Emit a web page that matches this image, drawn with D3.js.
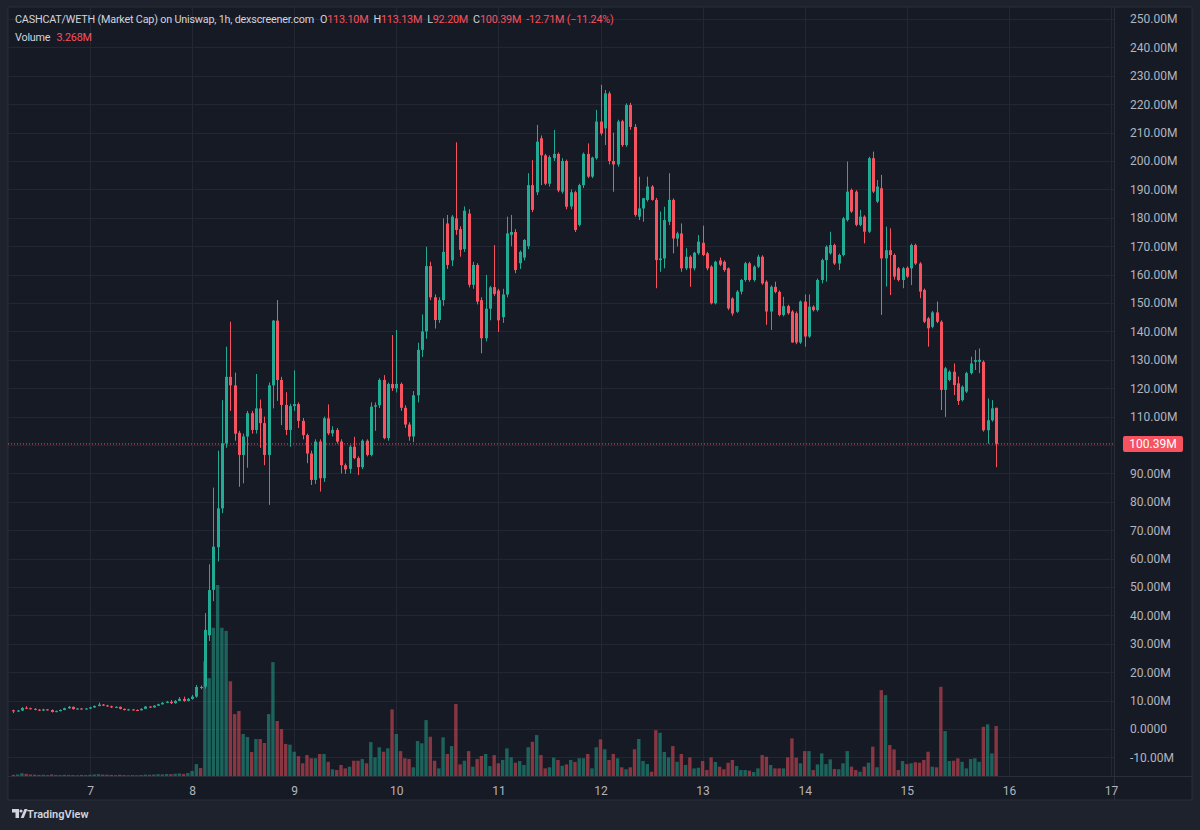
<!DOCTYPE html>
<html>
<head>
<meta charset="utf-8">
<script src="https://cdn.jsdelivr.net/npm/d3@7"></script>
<style>
  html, body { margin: 0; padding: 0; background: #1e222d; }
  svg { display: block; font-family: Roboto, "Liberation Sans", sans-serif; }
</style>
</head>
<body>
<div id="chart"></div>
<script>
// CASHCAT/WETH market cap, 1h candles, values in millions (M)
// first candle = day 6, 06:00 ; last candle = day 15, 21:00
const startTime = Date.UTC(2024, 5, 6, 6);

const dayTicks = [7, 8, 9, 10, 11, 12, 13, 14, 15, 16, 17];
const priceTicks = [-10, 0, 10, 20, 30, 40, 50, 60, 70, 80, 90, 100, 110, 120, 130,
  140, 150, 160, 170, 180, 190, 200, 210, 220, 230, 240, 250];

const opens = [
  // 6
  6.6, 6.2, 6.5, 7.5, 7.3, 7.1, 6.8, 6.5, 6.9, 6.7, 6.0, 6.3, 6.7, 7.3, 7.8, 7.0, 7.2, 7.1,
  // 7
  7.2, 7.6, 8.1, 8.6, 8.3, 8.0, 7.6, 7.8, 7.1, 6.7, 6.9, 6.7, 6.6, 7.1, 7.9, 7.6, 8.2, 8.7, 9.2, 9.6, 9.1, 9.9, 10.6, 9.9,
  // 8
  10.6, 11.4, 14.8, 14.9, 33, 49, 64, 77.7, 100.6, 124, 121, 104.3, 96.5, 103, 111.2, 105.3, 112.9, 107.7, 96.5, 121, 143.8, 122.9, 114.1, 105.3,
  // 9
  113.7, 114.4, 108.5, 103.5, 97, 87.7, 101.2, 88.3, 109.4, 104.1, 105.3, 101.2, 92.9, 91.6, 99.4, 95.4, 92.2, 101.5, 96.5, 113.5, 114, 122.9, 102.4, 121.5,
  // 10
  120, 121.5, 113.1, 107.2, 103, 117.5, 133.5, 140, 163, 152, 144, 151, 178, 165, 179.8, 176, 169, 181.5, 156.4, 163.4, 151, 137.6, 148, 155.6,
  // 11
  154.4, 145, 153, 174, 175, 164, 166, 170, 191.5, 189, 208, 202, 192, 201, 202.5, 189.2, 200, 184, 189, 177.5, 191.5, 202.5, 194.5, 201,
  // 12
  213.9, 211.5, 223.8, 200, 198.8, 214, 205.6, 219.7, 212, 180.4, 183.3, 186.3, 191, 186.3, 165.1, 165.7, 178.6, 186.3, 172.7, 174.5, 162.2, 166.3, 162.2, 167.5,
  // 13
  171.2, 167.5, 162.8, 149.9, 165, 164.5, 162.2, 151.6, 146.9, 154, 158.1, 164, 158.1, 162.8, 166.3, 157.5, 147, 155.7, 153.9, 145.8, 148.9, 147, 146.4, 136.1,
  // 14
  150.5, 138.2, 148.7, 147.5, 158.1, 165.1, 167.5, 170.4, 163.9, 166.9, 179.2, 189.8, 189.2, 177.5, 180.4, 175.1, 201, 185.7, 190.4, 165.7, 168.6, 166.9, 162.2, 158.1,
  // 15
  162.4, 162.2, 170.4, 163.9, 154.6, 144.6, 141.6, 146.7, 143.4, 119.4, 122.9, 125.8, 121.7, 115.8, 118.8, 125.3, 129.3, 129.3, 129.3, 105.2, 108.7, 113.10
];

const highs = [
  6.8, 6.7, 7.7, 8.0, 7.5, 7.3, 7.0, 7.1, 7.0, 6.9, 6.5, 6.9, 7.5, 8.1, 7.9, 7.4, 7.4, 7.4,
  7.8, 8.3, 9.3, 8.8, 8.5, 8.2, 8.0, 7.9, 7.2, 7.1, 7.0, 6.9, 7.3, 8.1, 8.0, 8.4, 8.9, 9.5, 9.9, 10.2, 10.2, 11.2, 11.4, 10.9,
  12, 15.5, 15.3, 40.8, 58, 85, 98, 115.8, 134.6, 143.4, 125.5, 105, 104, 112, 112, 125, 116, 110, 122, 144, 151, 124, 118.6, 114.5,
  126.3, 115, 109.5, 104, 98, 102, 102, 110, 114.3, 106.6, 106, 102, 93.5, 100, 102.9, 96, 102, 102, 115, 115, 123.5, 124.6, 122, 138.7,
  140.5, 122, 114, 108, 119, 136, 146, 169.8, 164.5, 153, 152, 179.8, 181, 181, 206.6, 177, 184, 183, 164.5, 164, 152, 159.9, 156, 170.4,
  155, 155, 180.4, 181, 176, 168.5, 172.5, 195.7, 200.3, 212.7, 209, 202.5, 202, 210.9, 203, 201, 200.5, 190, 189.5, 192, 203, 206.2, 201.5, 218,
  226.8, 225, 224.5, 210, 214.5, 214.5, 220.3, 220.5, 213, 194.5, 187, 194.5, 191.5, 187, 182.2, 183.9, 195.7, 186.8, 175.1, 178, 169.3, 166.8, 168, 173.9,
  177.2, 168, 163.3, 164.9, 166, 165, 162.5, 152, 154.5, 158.5, 164.5, 164.5, 163.3, 167, 166.8, 158, 156.2, 157.5, 154.4, 152.2, 149.4, 147.5, 147, 150.9,
  153, 153, 149.2, 158.6, 165.6, 170.3, 175.1, 170.9, 167.4, 180.3, 199.8, 190.3, 189.7, 182.8, 180.9, 201.5, 203.3, 193.3, 195.1, 176.9, 176.3, 167.4, 162.7, 162.7,
  162.9, 170.9, 170.9, 164.4, 155.1, 145.1, 147.2, 150.5, 143.9, 127.5, 126.3, 128.7, 124.1, 121, 125.8, 131.1, 133.4, 134, 129.8, 116.4, 115.8, 113.13
];

const lows = [
  5.6, 6.0, 6.3, 7.0, 6.9, 6.6, 6.3, 6.3, 6.5, 5.8, 5.9, 6.2, 6.6, 7.1, 6.8, 6.9, 6.9, 6.9,
  7.0, 7.5, 8.0, 8.1, 7.8, 7.4, 7.4, 6.9, 6.5, 6.5, 6.5, 6.4, 6.5, 7.0, 7.4, 7.5, 8.1, 8.6, 9.1, 8.8, 8.9, 9.8, 9.6, 9.7,
  10.3, 11, 14, 14.2, 31, 45, 59, 76, 99, 112, 101.5, 85.3, 86.5, 92, 104, 104, 99, 92.9, 78.9, 112.9, 115.5, 107, 103.5, 99.4,
  112, 106, 102, 93.6, 85.9, 86.3, 83.6, 87, 103.5, 103, 100.5, 90, 89.8, 90, 95, 89.4, 91.5, 96, 96, 105, 113, 102, 101.5, 119,
  118.5, 112, 106, 101.5, 101, 115, 131, 137.4, 151, 141, 143, 149, 162, 163, 174, 166.3, 168, 155.5, 155, 149.5, 132.3, 136.5, 143.9, 152.5,
  139.8, 143, 152, 170, 160.5, 162, 165, 169, 182, 188, 191.5, 191.5, 191, 200, 189, 188.5, 183, 183, 175, 177, 190.5, 194, 194, 200.5,
  209, 205.6, 198.8, 189.2, 198, 205, 205, 211, 180.4, 179.2, 178.6, 185.7, 186, 155.2, 161, 162.2, 177.4, 167.5, 169.9, 161, 161.6, 155.7, 161.5, 167,
  166.5, 161.5, 149.5, 149.5, 163, 161, 147.5, 145.5, 146.5, 153, 157.5, 157.5, 157.5, 162.3, 156.4, 142.3, 140.5, 153.4, 145.3, 145.3, 145.9, 136, 135.5, 135.6,
  134.6, 137.7, 147, 147, 156.9, 157.5, 167, 163.4, 161.6, 166.4, 178.7, 181.7, 177, 177, 171, 174.6, 188.7, 185.2, 145.8, 155.8, 152.8, 158.2, 157.6, 155.2,
  158.8, 156.3, 163.4, 151.7, 142.9, 134.6, 141.1, 142.9, 112.3, 109.9, 122.4, 117.6, 114.1, 115.3, 118.3, 124.8, 126.4, 125.3, 104.7, 100.5, 108.2, 92.20
];

const closes = [
  6.2, 6.5, 7.4, 7.3, 7.1, 6.8, 6.5, 6.9, 6.7, 6.0, 6.3, 6.7, 7.3, 7.8, 7.0, 7.2, 7.1, 7.2,
  7.6, 8.1, 8.6, 8.3, 8.0, 7.6, 7.8, 7.1, 6.7, 6.9, 6.7, 6.6, 7.1, 7.9, 7.6, 8.2, 8.7, 9.2, 9.6, 9.1, 9.9, 10.6, 9.9, 10.6,
  11.4, 14.8, 14.6, 34.9, 48.9, 64.2, 77.7, 100.6, 124, 121, 104, 96.5, 103, 111.2, 105.3, 112.9, 107.7, 96.5, 121, 143.8, 122.9, 114.1, 105.3, 113.7,
  114.4, 108.5, 103.5, 97, 87.7, 101.2, 88.3, 109.4, 104.1, 105.3, 101.2, 92.9, 91.4, 99.4, 95.4, 92.2, 101.5, 96.5, 113.5, 114, 122.9, 102.4, 121.5, 120,
  121.5, 113.1, 107.2, 103, 117.5, 133.5, 140, 163, 152, 144, 151, 168, 163.4, 180.4, 175.7, 168.7, 182.5, 156.4, 163.4, 150.5, 137.6, 148, 155.5, 153.2,
  143.9, 153, 174.5, 175, 161.6, 168, 172.2, 191.5, 182.8, 206.8, 202, 192, 201.4, 202.5, 189.6, 200, 183.9, 189, 175.7, 191.5, 202.5, 194.5, 201.2, 213.9,
  209.7, 223.8, 200, 198.8, 213.9, 205.6, 219.7, 212, 181, 183.3, 186.9, 191, 186.3, 165.1, 165.7, 179.2, 186.3, 172.7, 174.5, 162.2, 166.3, 162.2, 167.7, 171.6,
  166.9, 162.2, 149.9, 164.5, 163.5, 161.6, 148.1, 146.3, 154, 158.1, 164, 158.1, 162.8, 166.3, 156.9, 147, 155.7, 153.9, 145.8, 148.9, 146.4, 136.1, 136.1, 150.5,
  138.2, 148.7, 147.5, 158.1, 165.1, 169.8, 170.4, 163.9, 166.9, 179.8, 189.2, 182.2, 177.5, 180.4, 175.1, 201, 189.2, 191, 165.7, 168.6, 166.9, 159.3, 158.1, 162.2,
  159.3, 170.4, 163.9, 154, 143.4, 141.1, 146.7, 143.4, 119.4, 127, 125.8, 121.1, 115.5, 120.5, 125.3, 128.7, 129.9, 130, 105.2, 108.7, 112.9, 100.39
];

const volumes = [
  0.08, 0.1, 0.18, 0.14, 0.1, 0.09, 0.07, 0.08, 0.06, 0.1, 0.07, 0.06, 0.08, 0.07, 0.06, 0.05, 0.07, 0.06,
  0.08, 0.1, 0.12, 0.09, 0.08, 0.07, 0.06, 0.08, 0.06, 0.05, 0.06, 0.05, 0.07, 0.09, 0.08, 0.1, 0.12, 0.11, 0.13, 0.12, 0.15, 0.17, 0.14, 0.2,
  0.33, 0.78, 0.52, 7.5, 6.4, 9.7, 12.5, 9.7, 9.5, 6.2, 4.05, 4.25, 2.75, 2.55, 1.57, 2.42, 2.42, 2.16, 4.05, 7.45, 3.6, 3.07, 2.1, 2.05,
  1.59, 1.3, 0.83, 1.37, 1.16, 1.16, 1.44, 1.44, 0.93, 0.44, 0.39, 0.72, 0.5, 0.61, 1.0, 1.0, 1.11, 0.83, 2.22, 1.22, 1.88, 1.59, 1.81, 4.36,
  2.75, 1.63, 1.16, 1.11, 0.57, 2.29, 2.14, 3.66, 2.57, 1.0, 0.5, 2.53, 1.44, 1.96, 4.71, 0.76, 1.0, 1.63, 0.61, 1.11, 1.31, 1.44, 0.65, 1.37,
  0.83, 1.05, 1.81, 1.22, 0.87, 0.98, 0.72, 1.88, 2.24, 2.68, 1.37, 0.5, 0.57, 1.2, 1.05, 0.67, 0.76, 1.05, 0.92, 1.16, 1.16, 1.44, 0.5, 1.88,
  2.4, 1.75, 1.05, 1.44, 1.16, 0.57, 0.44, 0.57, 1.75, 2.42, 0.98, 0.78, 0.28, 3.0, 2.83, 1.57, 1.22, 1.96, 0.93, 1.44, 0.72, 1.22, 0.5, 0.54,
  0.98, 0.39, 1.22, 0.92, 0.61, 0.44, 0.87, 1.05, 0.65, 0.39, 0.39, 0.35, 0.26, 0.5, 1.37, 1.26, 0.72, 0.5, 0.5, 0.5, 1.22, 2.46, 1.2, 0.83,
  1.63, 1.63, 0.39, 0.76, 1.48, 0.78, 1.09, 0.46, 0.44, 0.83, 1.63, 0.61, 0.39, 0.28, 0.61, 0.87, 1.92, 0.57, 5.62, 5.29, 2.03, 1.74, 0.39, 0.98,
  0.78, 0.83, 0.9, 0.87, 1.05, 1.59, 0.61, 0.57, 5.84, 2.94, 0.98, 1.0, 1.16, 0.93, 0.5, 1.11, 1.16, 0.93, 3.22, 3.38, 1.48, 3.268
];

const lastPrice = 100.39;

const config = {
  width: 1200,
  height: 830,
  frame: { left: 8, top: 7, right: 1192, bottom: 800 },
  paneRight: 1114,
  paneBottom: 776,
  up: '#22ab94',
  down: '#f7525f',
  bg: '#161a25',
  grid: '#232733',
  text: '#b2b5be'
};

const candles = closes.map((c, i) => ({
  t: new Date(startTime + i * 3600e3),
  o: opens[i], h: highs[i], l: lows[i], c: c, v: volumes[i]
}));

const svg = d3.select('#chart').append('svg')
  .attr('width', config.width)
  .attr('height', config.height);

// scales
const xScale = d3.scaleUtc()
  .domain([new Date(Date.UTC(2024, 5, 7)), new Date(Date.UTC(2024, 5, 17))])
  .range([90, 1111]);
const yScale = d3.scaleLinear().domain([-10, 250]).range([757.4, 19]);
const vScale = d3.scaleLinear().domain([0, 12.5]).range([config.paneBottom, 585]);

// backgrounds
svg.append('rect').attr('width', config.width).attr('height', config.height).attr('fill', '#1e222d');
svg.append('rect')
  .attr('x', config.frame.left).attr('y', config.frame.top)
  .attr('width', config.frame.right - config.frame.left)
  .attr('height', config.frame.bottom - config.frame.top)
  .attr('fill', config.bg)
  .attr('stroke', '#2a2e39');

// grid
const grid = svg.append('g');
grid.selectAll('.hg').data(priceTicks).join('line')
  .attr('x1', config.frame.left).attr('x2', config.paneRight)
  .attr('y1', d => Math.round(yScale(d)) + 0.5).attr('y2', d => Math.round(yScale(d)) + 0.5)
  .attr('stroke', config.grid);
grid.selectAll('.vg').data(dayTicks).join('line')
  .attr('x1', d => Math.round(xScale(new Date(Date.UTC(2024, 5, d)))) + 0.5)
  .attr('x2', d => Math.round(xScale(new Date(Date.UTC(2024, 5, d)))) + 0.5)
  .attr('y1', config.frame.top).attr('y2', config.paneBottom)
  .attr('stroke', config.grid);

// pane borders
svg.append('line')
  .attr('x1', config.paneRight + 0.5).attr('x2', config.paneRight + 0.5)
  .attr('y1', config.frame.top).attr('y2', config.frame.bottom)
  .attr('stroke', '#2a2e39');
svg.append('line')
  .attr('x1', config.frame.left).attr('x2', config.frame.right)
  .attr('y1', config.paneBottom + 0.5).attr('y2', config.paneBottom + 0.5)
  .attr('stroke', '#2a2e39');

// volume bars
const volW = 3.4;
svg.append('g').selectAll('rect').data(candles).join('rect')
  .attr('x', d => xScale(d.t) - volW / 2)
  .attr('y', d => vScale(d.v))
  .attr('width', volW)
  .attr('height', d => config.paneBottom - vScale(d.v))
  .attr('fill', d => d.c >= d.o ? config.up : config.down)
  .attr('opacity', 0.5);

// candles
const bodyW = 3;
const cg = svg.append('g').selectAll('g').data(candles).join('g');
cg.append('line')
  .attr('x1', d => Math.round(xScale(d.t)) + 0.5)
  .attr('x2', d => Math.round(xScale(d.t)) + 0.5)
  .attr('y1', d => yScale(d.h))
  .attr('y2', d => yScale(d.l))
  .attr('stroke', d => d.c >= d.o ? config.up : config.down);
cg.append('rect')
  .attr('x', d => Math.round(xScale(d.t)) + 0.5 - bodyW / 2)
  .attr('y', d => yScale(Math.max(d.o, d.c)))
  .attr('width', bodyW)
  .attr('height', d => Math.max(1, Math.abs(yScale(d.o) - yScale(d.c))))
  .attr('fill', d => d.c >= d.o ? config.up : config.down);

// last price line
svg.append('line')
  .attr('x1', config.frame.left).attr('x2', config.paneRight)
  .attr('y1', yScale(lastPrice)).attr('y2', yScale(lastPrice))
  .attr('stroke', config.down)
  .attr('stroke-dasharray', '1,2');

// price axis
const fmtPrice = v => v === 0 ? '0.0000' : v.toFixed(2) + 'M';
const yAxis = svg.append('g')
  .attr('transform', `translate(${config.paneRight + 10},0)`)
  .call(d3.axisRight(yScale).tickValues(priceTicks).tickFormat(fmtPrice).tickSize(0).tickPadding(6));
yAxis.select('.domain').remove();
yAxis.selectAll('text')
  .attr('fill', config.text)
  .attr('font-size', 12)
  .attr('font-family', 'Roboto, "Liberation Sans", sans-serif');

// last price tag
const tag = svg.append('g').attr('transform', `translate(1123, ${yScale(lastPrice)})`);
tag.append('rect').attr('x', 0).attr('y', -8).attr('width', 60).attr('height', 16).attr('rx', 2).attr('fill', config.down);
tag.append('text').attr('x', 30).attr('y', 0).attr('dy', '0.35em')
  .attr('text-anchor', 'middle').attr('fill', '#ffffff').attr('font-size', 12)
  .text(fmtPrice(lastPrice));

// time axis
const xAxis = svg.append('g')
  .attr('transform', `translate(0,${config.paneBottom})`)
  .call(d3.axisBottom(xScale)
    .tickValues(dayTicks.map(d => new Date(Date.UTC(2024, 5, d))))
    .tickFormat(d => d.getUTCDate())
    .tickSize(0).tickPadding(10));
xAxis.select('.domain').remove();
xAxis.selectAll('text')
  .attr('fill', config.text)
  .attr('font-size', 12)
  .attr('font-family', 'Roboto, "Liberation Sans", sans-serif');

// legend / header
const head = svg.append('text').attr('x', 15).attr('y', 19).attr('dy', '0.35em')
  .attr('font-size', 10.8).attr('letter-spacing', -0.2).attr('fill', '#d1d4dc');
head.append('tspan').text('CASHCAT/WETH (Market Cap) on Uniswap, 1h, dexscreener.com');
const last = candles[candles.length - 1];
const ohlc = [['O', '113.10M'], ['H', '113.13M'], ['L', '92.20M'], ['C', '100.39M']];
ohlc.forEach((p, i) => {
  head.append('tspan').attr('dx', i === 0 ? 6 : 5).text(p[0]);
  head.append('tspan').attr('fill', config.down).text(p[1]);
});
head.append('tspan').attr('dx', 5).attr('fill', config.down).text('-12.71M (−11.24%)');

const vol = svg.append('text').attr('x', 15).attr('y', 37).attr('dy', '0.35em')
  .attr('font-size', 10.8).attr('letter-spacing', -0.2).attr('fill', '#d1d4dc');
vol.append('tspan').text('Volume');
vol.append('tspan').attr('dx', 6).attr('fill', config.down).text(last.v.toFixed(3) + 'M');

// TradingView mark
const tv = svg.append('g').attr('transform', 'translate(12,809)');
tv.append('path').attr('d', 'M0 0h7v9h-3.5v-5.5h-3.5z').attr('fill', '#d1d4dc');
tv.append('circle').attr('cx', 9).attr('cy', 2).attr('r', 1.6).attr('fill', '#d1d4dc');
tv.append('path').attr('d', 'M12.5 0h3l-3.8 9h-3z').attr('fill', '#d1d4dc');
svg.append('text').attr('x', 27).attr('y', 814).attr('dy', '0.35em')
  .attr('font-size', 11).attr('font-weight', 600).attr('fill', '#d1d4dc')
  .text('TradingView');
</script>
</body>
</html>
